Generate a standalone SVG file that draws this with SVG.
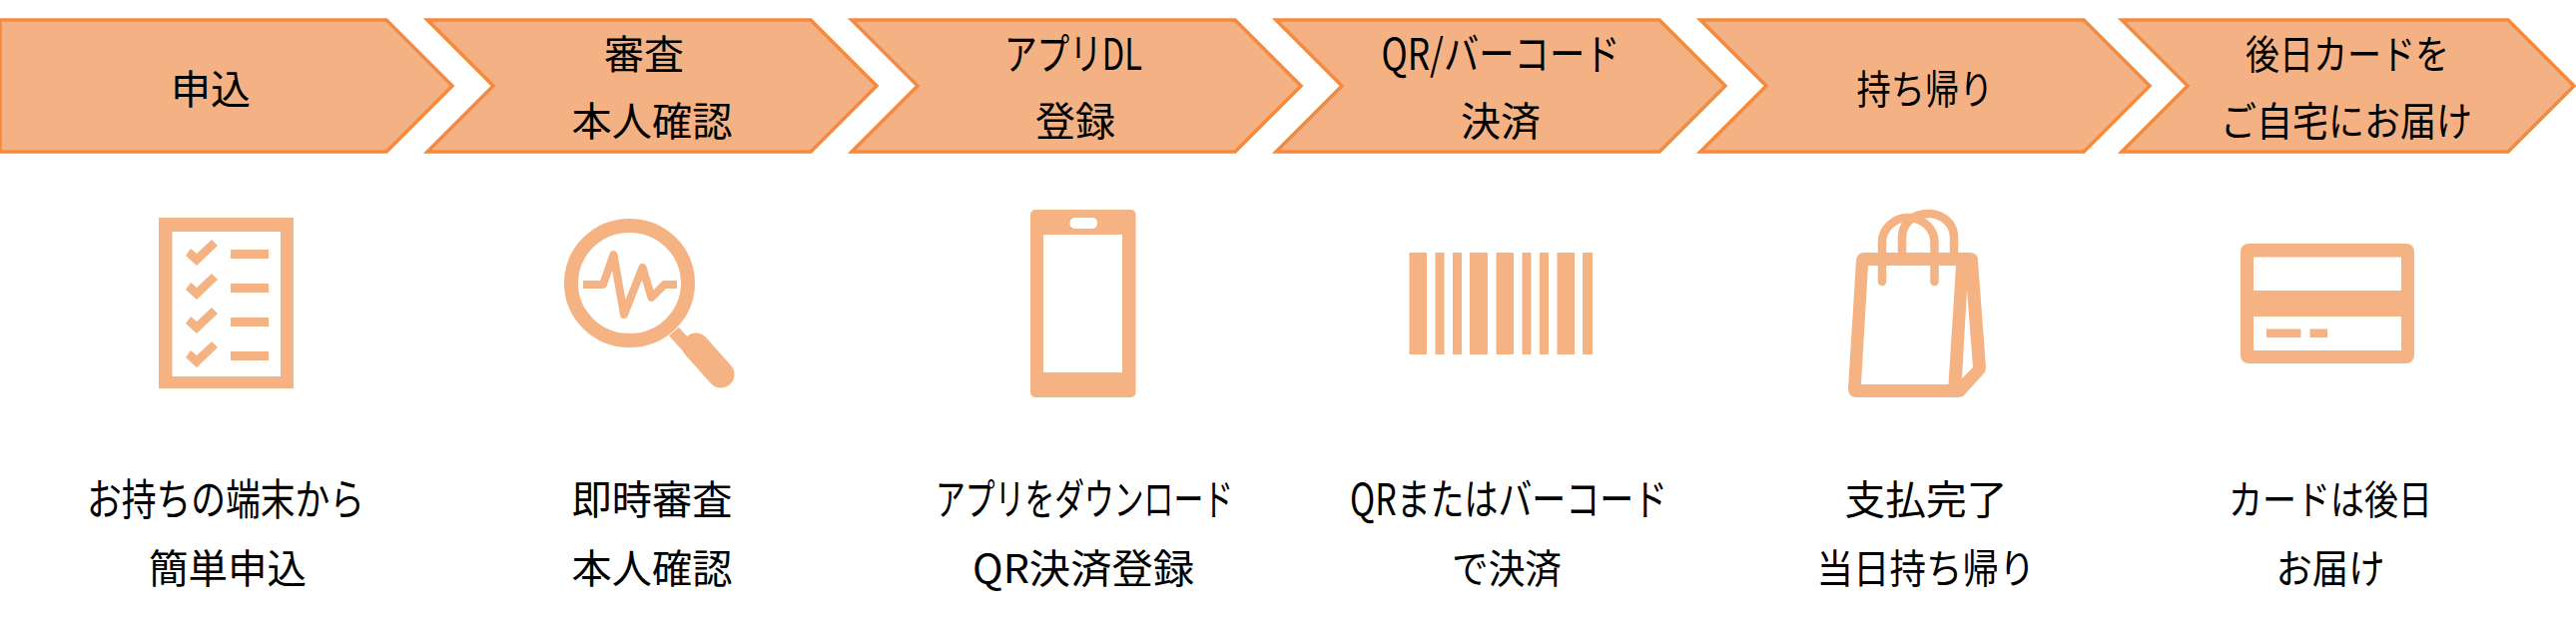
<svg xmlns="http://www.w3.org/2000/svg" width="2580" height="636" viewBox="0 0 2580 636">
<style>
text{font-family:"Noto Sans CJK JP","Noto Sans",sans-serif;font-size:40px;fill:#000;text-anchor:middle}
text.k{font-size:43px}
.ch{fill:#F4B183;stroke:#F58A3F;stroke-width:3.5;stroke-linejoin:miter}
.i{fill:#F5B283}
.w{fill:#fff}
.l{fill:none;stroke:#F5B283;stroke-linejoin:round}
.soft{filter:url(#soft)}
</style>
<defs>
<filter id="soft" filterUnits="userSpaceOnUse" x="0" y="190" width="2580" height="230"><feGaussianBlur stdDeviation="0.7"/></filter>
<polygon id="chev" class="ch" points="3,20 387,20 453,86 387,152 3,152 69,86"/>
<g id="tick"><polygon class="i" points="186,256 191,249 197,254 212,240 218,246 197,266"/><rect class="i" x="231" y="250" width="38" height="9"/></g>
</defs>
<rect width="2580" height="636" fill="#fff"/>
<g id="connectors"/>
<g id="step1"><polygon class="ch" points="0,20 387,20 453,86 387,152 0,152"/><text x="211" y="104" textLength="80" lengthAdjust="spacingAndGlyphs">申込</text></g>
<g id="step2"><use href="#chev" x="425"/><text x="645" y="69" textLength="80" lengthAdjust="spacingAndGlyphs">審査</text><text x="653" y="136" textLength="161" lengthAdjust="spacingAndGlyphs">本人確認</text></g>
<g id="step3"><use href="#chev" x="850"/><text class="k" x="1075" y="70" textLength="138" lengthAdjust="spacingAndGlyphs">アプリDL</text><text x="1077" y="136" textLength="80" lengthAdjust="spacingAndGlyphs">登録</text></g>
<g id="step4"><use href="#chev" x="1275"/><text class="k" x="1503" y="70" textLength="239" lengthAdjust="spacingAndGlyphs">QR/バーコード</text><text x="1503" y="136" textLength="80" lengthAdjust="spacingAndGlyphs">決済</text></g>
<g id="step5"><use href="#chev" x="1700"/><text x="1928" y="104" textLength="137" lengthAdjust="spacingAndGlyphs">持ち帰り</text></g>
<g id="step6"><polygon class="ch" points="2125,20 2512,20 2578,86 2512,152 2125,152 2191,86"/><text x="2351" y="69" textLength="204" lengthAdjust="spacingAndGlyphs">後日カードを</text><text x="2350" y="136" textLength="252" lengthAdjust="spacingAndGlyphs">ご自宅にお届け</text></g>

<g id="icon1" class="soft">
<rect class="i" x="159" y="218" width="135" height="171"/><rect class="w" x="172.500" y="232" width="108.500" height="145"/>
<use href="#tick"/><use href="#tick" y="34"/><use href="#tick" y="68"/><use href="#tick" y="102"/>
</g>
<g id="icon2" class="soft">
<ellipse class="l" cx="630.500" cy="283.500" rx="58.500" ry="57.500" stroke-width="14"/>
<polyline class="l" points="584,285 604,285 614.500,255 625,315 643.500,268 652.500,298 665.500,285 678,285" stroke-width="8"/>
<line class="l" x1="675" y1="332" x2="692" y2="351" stroke-width="13"/>
<line class="l" x1="697" y1="347" x2="722" y2="375" stroke-width="27" stroke-linecap="round"/>
</g>
<g id="icon3" class="soft">
<rect class="i" x="1032" y="210" width="105.500" height="188" rx="5"/><rect class="w" x="1045" y="235" width="79" height="138"/><rect class="w" x="1071.500" y="218" width="27.500" height="11" rx="5"/>
</g>
<g id="icon4" class="soft">
<rect class="i" x="1411.500" y="253" width="17.500" height="102"/><rect class="i" x="1437.500" y="253" width="9" height="102"/><rect class="i" x="1455" y="253" width="9" height="102"/><rect class="i" x="1472" y="253" width="18" height="102"/><rect class="i" x="1498.500" y="253" width="17.500" height="102"/><rect class="i" x="1524.500" y="253" width="9" height="102"/><rect class="i" x="1542" y="253" width="9" height="102"/><rect class="i" x="1559.500" y="253" width="17.500" height="102"/><rect class="i" x="1585" y="253" width="10" height="102"/>
</g>
<g id="icon5" class="soft">
<path class="l" d="M1905 253V238C1905 224 1916 214 1931 214C1946 214 1957 224 1957 238V253" stroke-width="8.500"/>
<path class="i" d="M1867 253H1973Q1981 253 1981 261L1989 368Q1989 372 1986 375L1967 396Q1965 398 1961 398H1860Q1851 398 1851 389L1859 261Q1860 253 1867 253Z"/>
<polygon class="w" points="1871,266 1959,266 1951.500,385 1864,385"/><polygon class="w" points="1970,290 1976,368 1965,379"/>
<path class="l" d="M1885 282V243C1885 229 1897 218 1911 218C1926 218 1937.500 229 1937.500 243V282" stroke-width="8.500" stroke-linecap="round"/>
</g>
<g id="icon6" class="soft">
<rect class="i" x="2244" y="244" width="174" height="120" rx="8"/><rect class="w" x="2257" y="257.500" width="148" height="33.500"/><rect class="w" x="2257" y="317" width="148" height="34"/><rect class="i" x="2270" y="329.500" width="34.500" height="8.500"/><rect class="i" x="2313.500" y="329.500" width="17.500" height="8.500"/>
</g>

<g id="caption1"><text class="k" x="226" y="516" textLength="278" lengthAdjust="spacingAndGlyphs">お持ちの端末から</text><text x="228" y="584" textLength="158" lengthAdjust="spacingAndGlyphs">簡単申込</text></g>
<g id="caption2"><text x="653" y="515" textLength="161" lengthAdjust="spacingAndGlyphs">即時審査</text><text x="653" y="584" textLength="161" lengthAdjust="spacingAndGlyphs">本人確認</text></g>
<g id="caption3"><text class="k" x="1086" y="516" textLength="298" lengthAdjust="spacingAndGlyphs">アプリをダウンロード</text><text x="1085" y="584" textLength="222" lengthAdjust="spacingAndGlyphs">QR決済登録</text></g>
<g id="caption4"><text class="k" x="1511" y="516" textLength="318" lengthAdjust="spacingAndGlyphs">QRまたはバーコード</text><text x="1509" y="584" textLength="110" lengthAdjust="spacingAndGlyphs">で決済</text></g>
<g id="caption5"><text x="1929" y="515" textLength="163" lengthAdjust="spacingAndGlyphs">支払完了</text><text x="1929" y="584" textLength="219" lengthAdjust="spacingAndGlyphs">当日持ち帰り</text></g>
<g id="caption6"><text x="2334" y="515" textLength="204" lengthAdjust="spacingAndGlyphs">カードは後日</text><text x="2334" y="584" textLength="109" lengthAdjust="spacingAndGlyphs">お届け</text></g>
</svg>
